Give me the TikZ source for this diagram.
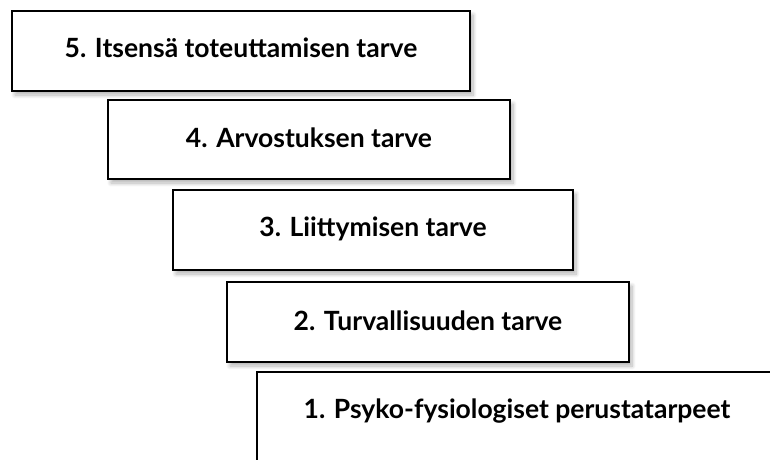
\documentclass[tikz,border=0pt]{standalone}
\usepackage{fontspec}
\setmainfont{Lato}
\usetikzlibrary{shadows.blur}

\tikzset{
  stepbox/.style={rectangle, draw=black, line width=2.6pt, fill=white,
    blur shadow={shadow xshift=3pt, shadow yshift=-4pt, shadow blur steps=8,
      shadow blur radius=4pt, shadow opacity=30}},
  lbl/.style={font=\bfseries\fontsize{26.5}{31}\selectfont, text=black, inner sep=0pt},
}

\begin{document}
\begin{tikzpicture}[x=1pt, y=-1pt]
  \useasboundingbox (0,0) rectangle (770,459);
  \clip (0,0) rectangle (770,459);

  % the five levels, top to bottom
  \node[stepbox, minimum width=458pt, minimum height=80pt] (n5) at (241,51) {};
  \node[stepbox, minimum width=402pt, minimum height=79pt] (n4) at (309,139.5) {};
  \node[stepbox, minimum width=400pt, minimum height=80pt] (n3) at (373,230) {};
  \node[stepbox, minimum width=402pt, minimum height=80pt] (n2) at (428,322) {};
  \node[stepbox, minimum width=520pt, minimum height=110pt] (n1) at (517,427) {};

  \node[lbl] (t5) at (241,48) {5. Itsensä toteuttamisen tarve};
  \node[lbl] (t4) at (309,138) {4. Arvostuksen tarve};
  \node[lbl] (t3) at (373,229) {3. Liittymisen tarve};
  \node[lbl] (t2) at (428,321) {2. Turvallisuuden tarve};
  \node[lbl] (t1) at (517,411) {1. Psyko-fysiologiset perustatarpeet};
\end{tikzpicture}
\end{document}
